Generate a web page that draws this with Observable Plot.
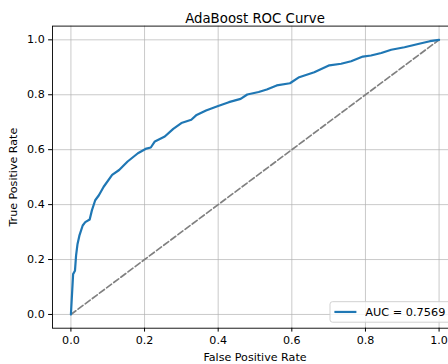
<!DOCTYPE html>
<html>
<head>
<meta charset="utf-8">
<script src="https://cdn.jsdelivr.net/npm/d3@7"></script>
<script src="https://cdn.jsdelivr.net/npm/@observablehq/plot@0.6"></script>
<style>
  html, body { margin: 0; padding: 0; background: white; }
  #wrap { width: 448px; height: 364px; overflow: hidden; position: relative; }
  #wrap svg { max-width: none !important; }
</style>
</head>
<body>
<div id="wrap"></div>
<script>
const title = "AdaBoost ROC Curve";
const xLabel = "False Positive Rate";
const yLabel = "True Positive Rate";
const xTicks = [0, 0.2, 0.4, 0.6, 0.8, 1.0];
const yTicks = [0, 0.2, 0.4, 0.6, 0.8, 1.0];
const auc = 0.7569;
const fpr = [0, 0.006, 0.011, 0.014, 0.018, 0.023, 0.032, 0.039, 0.051, 0.057, 0.066, 0.076, 0.089, 0.112, 0.131, 0.154, 0.182, 0.205, 0.217, 0.228, 0.255, 0.278, 0.300, 0.327, 0.340, 0.367, 0.398, 0.429, 0.461, 0.479, 0.510, 0.532, 0.559, 0.595, 0.620, 0.661, 0.702, 0.734, 0.761, 0.793, 0.815, 0.843, 0.870, 0.906, 0.943, 0.975, 1.0];
const tpr = [0, 0.147, 0.159, 0.214, 0.257, 0.287, 0.324, 0.336, 0.346, 0.379, 0.416, 0.434, 0.465, 0.508, 0.526, 0.557, 0.587, 0.604, 0.608, 0.630, 0.648, 0.676, 0.697, 0.709, 0.725, 0.743, 0.758, 0.773, 0.785, 0.801, 0.810, 0.819, 0.834, 0.842, 0.864, 0.882, 0.907, 0.913, 0.922, 0.939, 0.943, 0.952, 0.964, 0.973, 0.985, 0.995, 1.0];
const diagX = [0, 1];
const diagY = [0, 1];

const roc = fpr.map((x, i) => ({x, y: tpr[i]}));
const diag = diagX.map((x, i) => ({x, y: diagY[i]}));
const legendText = `AUC = ${auc.toFixed(4)}`;

function legendMark(index, scales, values, dims) {
  const g = d3.create("svg:g");
  const right = dims.width - dims.marginRight - 5.5;
  const bottom = dims.height - dims.marginBottom - 5.5;
  const left = 330;
  const h = 20.5;
  const cy = bottom - h / 2;
  g.append("rect")
    .attr("x", left).attr("y", bottom - h)
    .attr("width", right - left).attr("height", h)
    .attr("rx", 2.5)
    .attr("fill", "white").attr("fill-opacity", 0.8)
    .attr("stroke", "#cccccc").attr("stroke-width", 0.9);
  g.append("line")
    .attr("x1", left + 4.4).attr("x2", left + 26.4)
    .attr("y1", cy).attr("y2", cy)
    .attr("stroke", "#1f77b4").attr("stroke-width", 2.2);
  g.append("text")
    .attr("x", left + 35.3).attr("y", cy)
    .attr("dy", "0.35em")
    .attr("text-anchor", "start")
    .attr("font-size", 11.3)
    .attr("fill", "#000")
    .text(legendText);
  return g.node();
}

const chart = Plot.plot({
  width: 458,
  height: 364,
  marginLeft: 52,
  marginRight: 1,
  marginTop: 25.6,
  marginBottom: 36.3,
  style: {fontFamily: "DejaVu Sans", fontSize: "11.1px", background: "white", color: "#000", maxWidth: "none"},
  x: {domain: [-0.05, 1.05]},
  y: {domain: [-0.05, 1.05]},
  marks: [
    Plot.gridX(xTicks, {stroke: "#b0b0b0", strokeOpacity: 0.75, strokeWidth: 0.9}),
    Plot.gridY(yTicks, {stroke: "#b0b0b0", strokeOpacity: 0.75, strokeWidth: 0.9}),
    Plot.line(diag, {x: "x", y: "y", stroke: "gray", strokeWidth: 1.67, strokeDasharray: "6.2,2.7"}),
    Plot.line(roc, {x: "x", y: "y", stroke: "#1f77b4", strokeWidth: 2.2, strokeLinejoin: "round"}),
    Plot.frame({stroke: "black", strokeWidth: 0.9}),
    Plot.axisX(xTicks, {tickFormat: ".1f", tickSize: 3.9, tickPadding: 3.9, fontSize: 11.1,
      label: xLabel, labelAnchor: "center", labelArrow: "none", labelOffset: 32.5}),
    Plot.axisY(yTicks, {tickFormat: ".1f", tickSize: 3.9, tickPadding: 3.9, fontSize: 11.1,
      label: yLabel, labelAnchor: "center", labelArrow: "none", labelOffset: 43}),
    Plot.text([title], {text: d => d, frameAnchor: "top", dy: -12.8, fontSize: 13.3}),
    legendMark
  ]
});
document.getElementById("wrap").appendChild(chart);
</script>
</body>
</html>
